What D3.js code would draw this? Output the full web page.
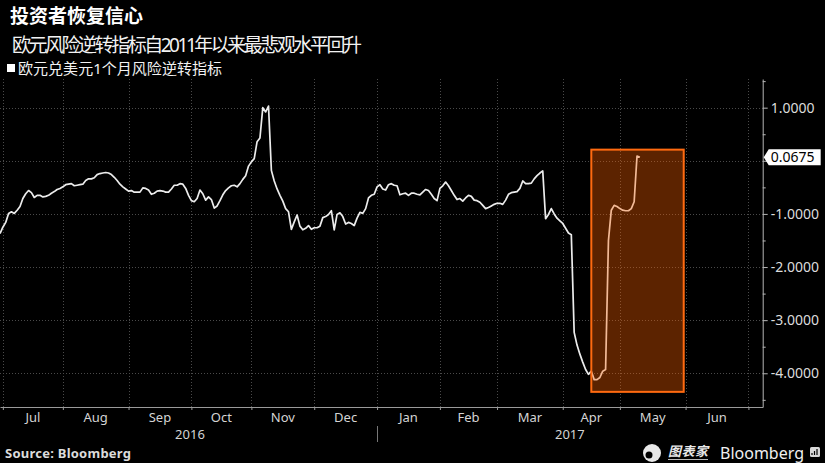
<!DOCTYPE html>
<html><head><meta charset="utf-8">
<script src="https://cdn.jsdelivr.net/npm/d3@7"></script>
<style>
html,body{margin:0;padding:0;background:#000;}
svg{display:block;}
text{font-family:"Noto Sans","Noto Sans CJK SC",sans-serif;}
</style></head>
<body><svg id="c" width="825" height="463"></svg>
<script>
const titleText = "投资者恢复信心";
const subtitleText = "欧元风险逆转指标自2011年以来最悲观水平回升";
const legendText = "欧元兑美元1个月风险逆转指标";
const sourceText = "Source: Bloomberg";

const dates = [
"2016-06-30","2016-07-01",
"2016-07-04","2016-07-05","2016-07-06","2016-07-07","2016-07-08",
"2016-07-11","2016-07-12","2016-07-13","2016-07-14","2016-07-15",
"2016-07-18","2016-07-19","2016-07-20","2016-07-21","2016-07-22",
"2016-07-25","2016-07-26","2016-07-27","2016-07-28","2016-07-29",
"2016-08-01","2016-08-02","2016-08-03","2016-08-04","2016-08-05",
"2016-08-08","2016-08-09","2016-08-10","2016-08-11","2016-08-12",
"2016-08-15","2016-08-16","2016-08-17","2016-08-18","2016-08-19",
"2016-08-22","2016-08-23","2016-08-24","2016-08-25","2016-08-26",
"2016-08-29","2016-08-30","2016-08-31","2016-09-01","2016-09-02",
"2016-09-05","2016-09-06","2016-09-07","2016-09-08","2016-09-09",
"2016-09-12","2016-09-13","2016-09-14","2016-09-15","2016-09-16",
"2016-09-19","2016-09-20","2016-09-21","2016-09-22","2016-09-23",
"2016-09-26","2016-09-27","2016-09-28","2016-09-29","2016-09-30",
"2016-10-03","2016-10-04","2016-10-05","2016-10-06","2016-10-07",
"2016-10-10","2016-10-11","2016-10-12","2016-10-13","2016-10-14",
"2016-10-17","2016-10-18","2016-10-19","2016-10-20","2016-10-21",
"2016-10-24","2016-10-25","2016-10-26","2016-10-27","2016-10-28",
"2016-10-31","2016-11-01","2016-11-02","2016-11-03","2016-11-04",
"2016-11-07","2016-11-08","2016-11-09","2016-11-10","2016-11-11",
"2016-11-14","2016-11-15","2016-11-16","2016-11-17","2016-11-18",
"2016-11-21","2016-11-22","2016-11-23","2016-11-24","2016-11-25",
"2016-11-28","2016-11-29","2016-11-30","2016-12-01","2016-12-02",
"2016-12-05","2016-12-06","2016-12-07","2016-12-08","2016-12-09",
"2016-12-12","2016-12-13","2016-12-14","2016-12-15","2016-12-16",
"2016-12-19","2016-12-20","2016-12-21","2016-12-22","2016-12-23",
"2016-12-26","2016-12-27","2016-12-28","2016-12-29","2016-12-30",
"2017-01-02","2017-01-03","2017-01-04","2017-01-05","2017-01-06",
"2017-01-09","2017-01-10","2017-01-11","2017-01-12","2017-01-13",
"2017-01-16","2017-01-17","2017-01-18","2017-01-19","2017-01-20",
"2017-01-23","2017-01-24","2017-01-25","2017-01-26","2017-01-27",
"2017-01-30","2017-01-31","2017-02-01","2017-02-02","2017-02-03",
"2017-02-06","2017-02-07","2017-02-08","2017-02-09","2017-02-10",
"2017-02-13","2017-02-14","2017-02-15","2017-02-16","2017-02-17",
"2017-02-20","2017-02-21","2017-02-22","2017-02-23","2017-02-24",
"2017-02-27","2017-02-28","2017-03-01","2017-03-02","2017-03-03",
"2017-03-06","2017-03-07","2017-03-08","2017-03-09","2017-03-10",
"2017-03-13","2017-03-14","2017-03-15","2017-03-16","2017-03-17",
"2017-03-20","2017-03-21","2017-03-22","2017-03-23","2017-03-24",
"2017-03-27","2017-03-28","2017-03-29","2017-03-30","2017-03-31",
"2017-04-03","2017-04-04","2017-04-05","2017-04-06","2017-04-07",
"2017-04-10","2017-04-11","2017-04-12","2017-04-13","2017-04-14",
"2017-04-17","2017-04-18","2017-04-19","2017-04-20","2017-04-21",
"2017-04-24","2017-04-25","2017-04-26","2017-04-27","2017-04-28",
"2017-05-01","2017-05-02","2017-05-03","2017-05-04","2017-05-05",
"2017-05-08","2017-05-09","2017-05-10"
];

const values = [
-1.37,-1.25,
-1.16,-0.99,-0.96,-0.99,-0.93,
-0.86,-0.71,-0.62,-0.56,-0.60,
-0.69,-0.65,-0.65,-0.68,-0.67,
-0.65,-0.61,-0.58,-0.54,-0.52,
-0.49,-0.45,-0.44,-0.43,-0.47,
-0.46,-0.45,-0.44,-0.37,-0.34,
-0.34,-0.32,-0.26,-0.24,-0.23,
-0.22,-0.23,-0.26,-0.31,-0.37,
-0.44,-0.49,-0.53,-0.57,-0.56,
-0.59,-0.59,-0.59,-0.51,-0.52,
-0.55,-0.63,-0.61,-0.57,-0.56,
-0.57,-0.59,-0.59,-0.53,-0.46,
-0.46,-0.43,-0.44,-0.52,-0.65,
-0.75,-0.77,-0.71,-0.55,-0.62,
-0.74,-0.68,-0.73,-0.89,-0.85,
-0.75,-0.64,-0.56,-0.51,-0.47,
-0.46,-0.49,-0.43,-0.35,-0.28,
-0.10,-0.02,0.04,0.36,0.43,
1.00,0.92,1.03,-0.18,-0.38,
-0.53,-0.65,-0.76,-0.90,-0.96,
-1.29,-1.15,-1.02,-1.23,-1.30,
-1.27,-1.22,-1.29,-1.26,-1.26,
-1.23,-1.07,-1.05,-1.01,-0.94,
-1.30,-1.01,-0.98,-1.05,-1.19,
-1.16,-1.18,-1.22,-1.08,-0.97,
-0.99,-0.90,-0.70,-0.65,-0.63,
-0.49,-0.45,-0.53,-0.55,-0.45,
-0.43,-0.46,-0.47,-0.64,-0.62,
-0.61,-0.65,-0.61,-0.61,-0.63,
-0.64,-0.59,-0.54,-0.56,-0.63,
-0.71,-0.75,-0.52,-0.47,-0.40,
-0.47,-0.56,-0.65,-0.73,-0.71,
-0.76,-0.70,-0.65,-0.67,-0.74,
-0.75,-0.78,-0.84,-0.90,-0.88,
-0.85,-0.82,-0.80,-0.80,-0.82,
-0.74,-0.63,-0.60,-0.59,-0.58,
-0.52,-0.38,-0.43,-0.43,-0.42,
-0.34,-0.28,-0.23,-0.19,-1.09,
-1.01,-0.90,-1.00,-1.08,-1.13,
-1.18,-1.27,-1.36,-1.39,-3.23,
-3.47,-3.64,-3.79,-3.93,-4.02,
-3.96,-4.12,-4.12,-4.08,-3.96,
-3.93,-1.50,-0.93,-0.84,-0.86,
-0.90,-0.93,-0.94,-0.94,-0.90,
-0.77,0.09,0.0675
];

const lastValue = 0.0675;
const lastLabel = "0.0675";
const monthStarts = ["2016-07-01","2016-08-01","2016-09-01","2016-10-01","2016-11-01","2016-12-01",
  "2017-01-01","2017-02-01","2017-03-01","2017-04-01","2017-05-01","2017-06-01","2017-07-01"];
const monthLabels = ["Jul","Aug","Sep","Oct","Nov","Dec","Jan","Feb","Mar","Apr","May","Jun"];
const yearLabels = ["2016","2017"];
const yearStarts = ["2016-07-01","2017-01-01"];
const xStart = "2016-06-30", xEnd = "2017-07-10";
const yTicks = [1, 0, -1, -2, -3, -4];
const yMinorTicks = [1.5, 0.5, -0.5, -1.5, -2.5, -3.5, -4.5];
const highlightDates = ["2017-04-17", "2017-05-31"];
const highlightValues = [0.21, -4.35];

// business-day index relative to 2016-07-01
const BASE = Date.UTC(2016, 6, 1);
function bizIndex(s) {
  const [Y, M, D] = s.split("-").map(Number);
  const t = Date.UTC(Y, M - 1, D);
  const days = Math.round((t - BASE) / 864e5);
  let n = 0;
  if (days >= 0) {
    for (let k = 0; k < days; k++) { const w = new Date(BASE + k * 864e5).getUTCDay(); if (w !== 0 && w !== 6) n++; }
  } else {
    for (let k = -1; k >= days; k--) { const w = new Date(BASE + k * 864e5).getUTCDay(); if (w !== 0 && w !== 6) n--; }
  }
  return n;
}

const W = 825, H = 463;
const L = 0, R = 762.7, T = 79, B = 407;
const svg = d3.select("#c");
svg.append("rect").attr("width", W).attr("height", H).attr("fill", "#000");

const x = d3.scaleLinear().domain([bizIndex(xStart), bizIndex(xEnd)]).range([L, R]);
const y = d3.scaleLinear().domain([-4.635, 1.54]).range([B, T]);

const data = dates.map((d, i) => ({ i: bizIndex(d), v: values[i] }));
const monthIdx = monthStarts.map(bizIndex);

// grid
const grid = svg.append("g").attr("stroke", "#4a4a4a").attr("stroke-width", 1).attr("stroke-dasharray", "1,2");
grid.selectAll("line.h").data(yTicks).join("line").attr("class", "h")
  .attr("x1", L).attr("x2", R).attr("y1", d => Math.round(y(d)) + 0.5).attr("y2", d => Math.round(y(d)) + 0.5);
grid.selectAll("line.v").data(monthIdx).join("line").attr("class", "v")
  .attr("y1", T).attr("y2", B).attr("x1", d => Math.round(x(d)) + 0.5).attr("x2", d => Math.round(x(d)) + 0.5);

// line
const line = d3.line().x(d => x(d.i)).y(d => y(d.v));
svg.append("path").datum(data).attr("d", line).attr("fill", "none")
  .attr("stroke", "#ececec").attr("stroke-width", 1.7).attr("stroke-linejoin", "round");

// highlight box
const hx0 = x(bizIndex(highlightDates[0])), hx1 = x(bizIndex(highlightDates[1]));
svg.append("rect").attr("x", hx0).attr("y", y(highlightValues[0]))
  .attr("width", hx1 - hx0 + 1).attr("height", y(highlightValues[1]) - y(highlightValues[0]))
  .attr("fill", "rgb(255,96,0)").attr("fill-opacity", 0.36)
  .attr("stroke", "#ff6a10").attr("stroke-width", 2);

// x axis
const xAxis = d3.axisBottom(x).tickValues(monthIdx).tickSize(3).tickSizeOuter(0).tickFormat("");
const gx = svg.append("g").attr("transform", `translate(0,${B})`).call(xAxis);
gx.selectAll("path,line").attr("stroke", "#9a9a9a");

svg.append("g").selectAll("text").data(monthLabels).join("text")
  .attr("x", (d, i) => (x(monthIdx[i]) + x(monthIdx[i + 1])) / 2)
  .attr("y", 422).attr("text-anchor", "middle").attr("fill", "#d4d4d4")
  .attr("font-size", 13).text(d => d);

const yrStartIdx = yearStarts.map(bizIndex);
const yrBounds = [[x(yrStartIdx[0]), x(yrStartIdx[1])], [x(yrStartIdx[1]), R]];
svg.append("g").selectAll("text").data(yearLabels).join("text")
  .attr("x", (d, i) => (yrBounds[i][0] + yrBounds[i][1]) / 2)
  .attr("y", 439).attr("text-anchor", "middle").attr("fill", "#d4d4d4")
  .attr("font-size", 13).text(d => d);
svg.append("line").attr("x1", Math.round(x(yrStartIdx[1])) + 0.5).attr("x2", Math.round(x(yrStartIdx[1])) + 0.5)
  .attr("y1", 426).attr("y2", 442).attr("stroke", "#777");

// y axis (right)
const fmt = d3.formatLocale({ decimal: ".", thousands: ",", grouping: [3], currency: ["", ""], minus: "-" }).format(".4f");
const yAxis = d3.axisRight(y).tickValues(yTicks).tickSize(5).tickSizeOuter(0).tickPadding(3)
  .tickFormat(d => d === 0 ? "" : fmt(d));
const gy = svg.append("g").attr("transform", `translate(${R},0)`).call(yAxis);
gy.select(".domain").attr("stroke", "#b5b5b5");
gy.selectAll(".tick line").attr("stroke", "#b5b5b5");
gy.selectAll(".tick text").attr("fill", "#dcdcdc").attr("font-size", 14).attr("font-family", "Noto Sans, sans-serif");
const yMinor = d3.axisRight(y).tickValues(yMinorTicks).tickSize(3).tickSizeOuter(0).tickFormat("");
const gym = svg.append("g").attr("transform", `translate(${R},0)`).call(yMinor);
gym.select(".domain").remove();
gym.selectAll(".tick line").attr("stroke", "#b5b5b5");

// last value tag
const ty = y(lastValue);
svg.append("path")
  .attr("d", `M${R + 1},${ty} L${R + 6},${ty - 8} L${R + 58},${ty - 8} L${R + 58},${ty + 8} L${R + 6},${ty + 8} Z`)
  .attr("fill", "#ffffff");
svg.append("text").attr("x", R + 8).attr("y", ty + 5).attr("fill", "#000")
  .attr("font-size", 14).text(lastLabel);

// titles
svg.append("text").attr("x", 10).attr("y", 23).attr("fill", "#fff").attr("font-size", 19)
  .attr("font-weight", "bold").attr("font-family", "Noto Sans CJK SC")
  .attr("textLength", 133).attr("lengthAdjust", "spacing").text(titleText);
svg.append("text").attr("x", 12).attr("y", 52).attr("fill", "#f2f2f2").attr("font-size", 19)
  .attr("font-family", "Noto Sans CJK SC")
  .attr("textLength", 350).attr("lengthAdjust", "spacing").text(subtitleText);
svg.append("rect").attr("x", 7).attr("y", 64).attr("width", 8).attr("height", 8).attr("fill", "#fff");
svg.append("text").attr("x", 18).attr("y", 74).attr("fill", "#f2f2f2").attr("font-size", 15)
  .attr("font-family", "Noto Sans CJK SC")
  .attr("textLength", 204).attr("lengthAdjust", "spacing").text(legendText);

// source
svg.append("text").attr("x", 5).attr("y", 458).attr("fill", "#dcdcdc").attr("font-size", 13)
  .attr("font-weight", "bold").attr("font-family", "DejaVu Sans")
  .attr("textLength", 126).attr("lengthAdjust", "spacing").text(sourceText);

// branding
const brand = svg.append("g");
brand.append("circle").attr("cx", 652).attr("cy", 453).attr("r", 9).attr("fill", "#e8e8e8");
brand.append("circle").attr("cx", 649).attr("cy", 455).attr("r", 3.5).attr("fill", "#000");
brand.append("text").attr("x", 668).attr("y", 456).attr("fill", "#e8e8e8").attr("font-size", 13)
  .attr("font-weight", "bold").attr("font-style", "italic").attr("font-family", "Noto Sans CJK SC")
  .attr("textLength", 40).attr("lengthAdjust", "spacing").text("图表家");
brand.append("line").attr("x1", 668).attr("x2", 708).attr("y1", 459.5).attr("y2", 459.5).attr("stroke", "#bbb");
brand.append("text").attr("x", 720).attr("y", 459).attr("fill", "#f0f0f0").attr("font-size", 16)
  .attr("font-family", "Noto Sans").text("Bloomberg");
brand.append("rect").attr("x", 810).attr("y", 447).attr("width", 10).attr("height", 10).attr("rx", 1.5).attr("fill", "#d8d8d8");
brand.append("path").attr("d", "M812,455 v-2 M814.5,455 v-4 M817,455 v-6").attr("stroke", "#000").attr("stroke-width", 1.2);
</script></body></html>
